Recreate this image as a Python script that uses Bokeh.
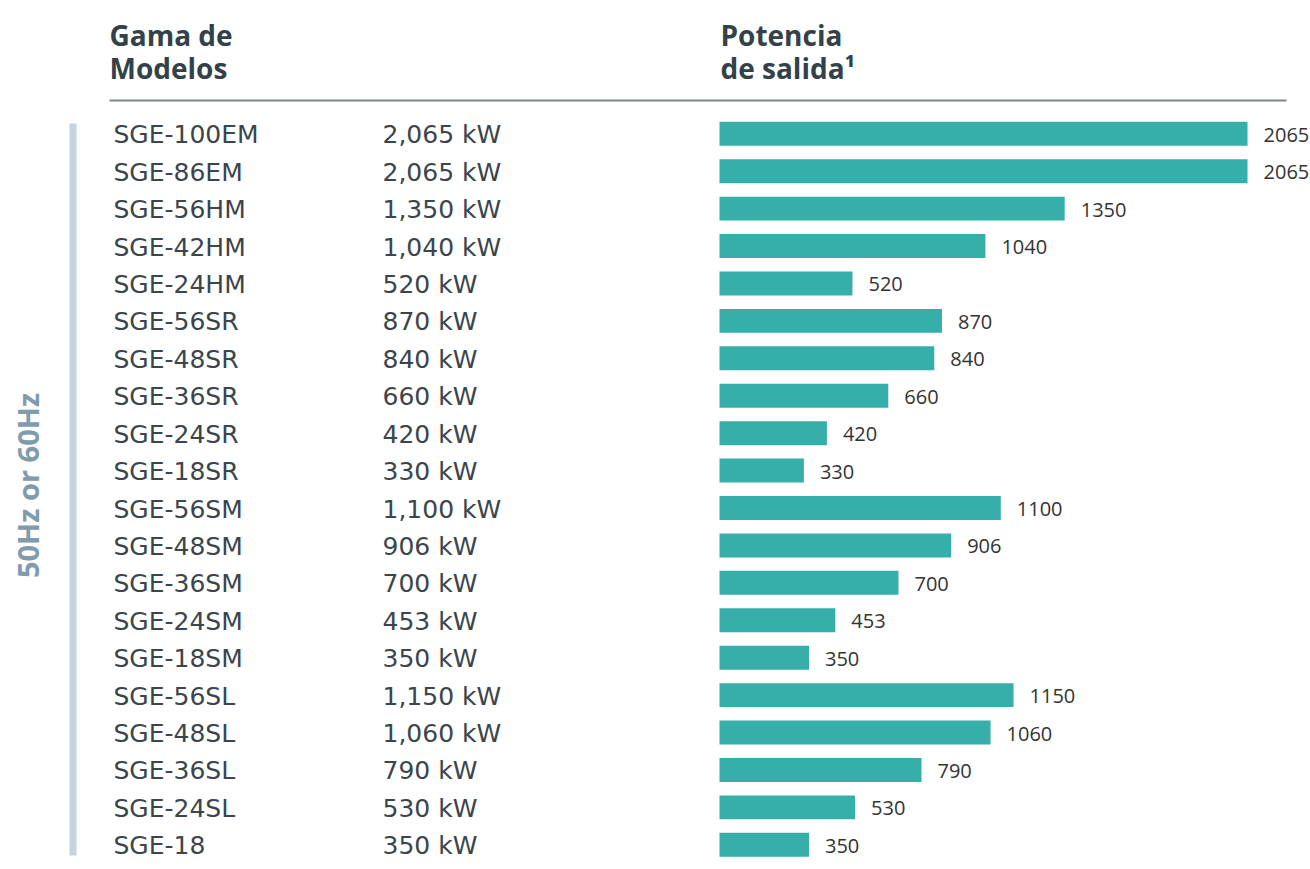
import math
from bokeh.plotting import figure
from bokeh.models import Range1d, ColumnDataSource
from bokeh.core.properties import value
from bokeh.embed import file_html
from bokeh.resources import INLINE

# ---- data ----
models = ["SGE-100EM", "SGE-86EM", "SGE-56HM", "SGE-42HM", "SGE-24HM",
          "SGE-56SR", "SGE-48SR", "SGE-36SR", "SGE-24SR", "SGE-18SR",
          "SGE-56SM", "SGE-48SM", "SGE-36SM", "SGE-24SM", "SGE-18SM",
          "SGE-56SL", "SGE-48SL", "SGE-36SL", "SGE-24SL", "SGE-18"]
power_kw = [2065, 2065, 1350, 1040, 520,
            870, 840, 660, 420, 330,
            1100, 906, 700, 453, 350,
            1150, 1060, 790, 530, 350]
header_left = ["Gama de", "Modelos"]
header_right = ["Potencia", "de salida\u00b9"]
side_label = "50Hz or 60Hz"

# ---- layout constants (pixels) ----
W, H = 1310, 869
BAR_X0 = 719.0          # pixel where 0 kW sits
PX_PER_KW = 0.2557
ROW0 = 133.3            # pixel center of first row
ROW_STEP = 37.42

x_start = -BAR_X0 / PX_PER_KW
x_end = (W - BAR_X0) / PX_PER_KW
y_top = -ROW0 / ROW_STEP
y_bot = (H - ROW0) / ROW_STEP

p = figure(width=W, height=H, output_backend="svg", toolbar_location=None,
           x_range=Range1d(x_start, x_end), y_range=Range1d(y_bot, y_top),
           x_axis_type=None, y_axis_type=None, min_border=0,
           outline_line_color=None, background_fill_color="white",
           border_fill_color="white")
p.grid.visible = False
p.extra_x_ranges = {"px": Range1d(0, W)}
p.extra_y_ranges = {"py": Range1d(H, 0)}

idx = list(range(len(models)))
src = ColumnDataSource(dict(
    y=idx, v=power_kw, model=models,
    kw=[f"{v:,} kW" for v in power_kw],
    lab=[str(v) for v in power_kw],
    zero=[0] * len(models),
    name_x=[113] * len(models),
    kw_x=[382] * len(models),
))

TEXT = "#3b454b"
HEAD = "#33424a"

# bars
p.hbar(y="y", left="zero", right="v", height=0.64, source=src,
       fill_color="#36aeaa", line_color=None)

# value labels
p.text(x="v", y="y", text="lab", source=src, x_offset=16, y_offset=1,
       text_align="left", text_baseline="middle",
       text_font=value("Open Sans"), text_font_size="20px", text_color="#333333")

# model names and kW columns
p.text(x="name_x", y="y", text="model", source=src, x_range_name="px", y_offset=1,
       text_align="left", text_baseline="middle",
       text_font=value("DejaVu Sans"), text_font_size="25px", text_color=TEXT)
p.text(x="kw_x", y="y", text="kw", source=src, x_range_name="px", y_offset=1,
       text_align="left", text_baseline="middle",
       text_font=value("DejaVu Sans"), text_font_size="25px", text_color=TEXT)

# headers
p.text(x=[109, 109], y=[34, 67.5], text=header_left, x_range_name="px", y_range_name="py",
       text_align="left", text_baseline="middle",
       text_font=value("Open Sans"), text_font_style="bold",
       text_font_size="28px", text_color=HEAD)
p.text(x=[720, 720], y=[34, 67.5], text=header_right, x_range_name="px", y_range_name="py",
       text_align="left", text_baseline="middle",
       text_font=value("Open Sans"), text_font_style="bold",
       text_font_size="28px", text_color=HEAD)

# header rule
p.segment(x0=[109], y0=[100], x1=[1286], y1=[100], x_range_name="px", y_range_name="py",
          line_color="#80878b", line_width=2)

# side bar
p.quad(left=[69], right=[76], top=[123], bottom=[855], x_range_name="px", y_range_name="py",
       fill_color="#c3d4de", line_color=None)

# rotated side label
p.text(x=[27], y=[485], text=[side_label], x_range_name="px", y_range_name="py",
       angle=math.pi / 2, text_align="center", text_baseline="middle",
       text_font=value("Open Sans"), text_font_style="bold",
       text_font_size="29px", text_color="#7f9bac")

open("out.html", "w").write(file_html(p, INLINE))
